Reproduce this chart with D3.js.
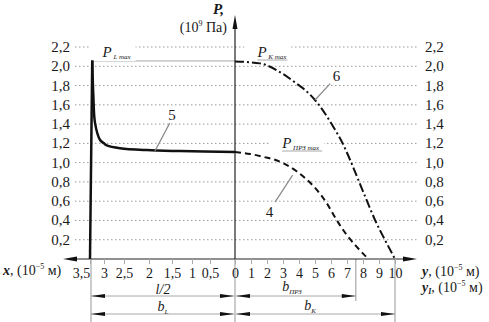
<!DOCTYPE html>
<html>
<head>
<meta charset="utf-8">
<script src="https://cdn.jsdelivr.net/npm/d3@7"></script>
<style>
    body { margin: 0; background: #fff; }
    svg, svg text { font-family: "Liberation Serif", "Times New Roman", "DejaVu Serif", serif; }
    .grid line { stroke: #9a9a9a; stroke-width: 1; stroke-dasharray: 1.5, 2.5; }
    .tick-label { font-size: 15px; fill: #1a1a1a; }
    .thin { stroke: #a8a8a8; stroke-width: 1.2; fill: none; }
</style>
</head>
<body>
<div id="chart"></div>
<script>
// P values (10^9 Pa) for the grid / labels
const pTicks = [0.2, 0.4, 0.6, 0.8, 1.0, 1.2, 1.4, 1.6, 1.8, 2.0, 2.2];
// left half axis, x (10^-5 m)
const xTicks = [0, 0.5, 1, 1.5, 2, 2.5, 3, 3.5];
// right half axis, y (10^-5 m)
const yTicks = [1, 2, 3, 4, 5, 6, 7, 8, 9, 10];

// curve 5 (left side, solid)
const curve5X = [3.5, 3.42, 3.38, 3.32, 3.14, 3.0, 2.93, 2.6, 2.05, 1.3, 0];
const curve5P = [0, 2.06, 1.69, 1.41, 1.235, 1.2, 1.18, 1.15, 1.13, 1.12, 1.11];

// curve 6 (right side, dash-dot)
const curve6Y = [0, 1.56, 3.0, 3.85, 4.375, 5.0, 5.625, 6.15, 6.67, 7.19, 7.71, 8.23, 8.75, 9.375, 10];
const curve6P = [2.05, 2.03, 1.92, 1.82, 1.755, 1.65, 1.51, 1.37, 1.22, 1.03, 0.82, 0.61, 0.405, 0.197, 0];

// curve 4 (right side, dashed)
const curve4Y = [0, 0.94, 1.77, 2.4, 3.85, 4.27, 5.1, 5.73, 6.35, 6.98, 7.6, 8.33];
const curve4P = [1.11, 1.09, 1.06, 1.035, 0.91, 0.855, 0.72, 0.58, 0.405, 0.25, 0.128, 0];

const PL_MAX = 2.05;
const HALF_L = 3.5;   // l/2 = b_L
const B_PRZ = 7.55;
const B_K = 10;

const WIDTH = 489;
const HEIGHT = 322;
const AXIS_Y = 259;
const SERIF = "Liberation Serif";
const INK = "#1a1a1a";

const svg = d3.select("#chart")
    .append("svg")
    .attr("width", WIDTH)
    .attr("height", HEIGHT)
    .attr("font-family", SERIF);

let yScale = d3.scaleLinear()
    .domain([0, 2.2])
    .range([AXIS_Y, 47]);

// the left ticks are spaced a bit unevenly in the source drawing
let xLeft = d3.scaleLinear()
    .domain(xTicks)
    .range([235, 210, 192, 172, 149, 124, 104, 90]);

let xRight = d3.scaleLinear()
    .domain([0, 10])
    .range([235, 395]);

const fmt = (v) => d3.format(".1f")(v).replace(".", ",");
const fmtX = (v) => (v % 1 === 0 ? String(v) : String(v).replace(".", ","));

// Grid lines
let grid = svg.append("g").classed("grid", true);
grid.selectAll(".gl")
    .data(pTicks)
    .enter()
    .append("line")
    .attr("x1", 75)
    .attr("x2", 418)
    .attr("y1", d => yScale(d))
    .attr("y2", d => yScale(d));

// P tick labels, both sides
svg.append("g")
    .selectAll("text")
    .data(pTicks)
    .enter()
    .append("text")
    .classed("tick-label", true)
    .attr("x", 70)
    .attr("y", d => yScale(d) + 5)
    .attr("text-anchor", "end")
    .text(fmt);

svg.append("g")
    .selectAll("text")
    .data(pTicks)
    .enter()
    .append("text")
    .classed("tick-label", true)
    .attr("x", 425)
    .attr("y", d => yScale(d) + 5)
    .text(fmt);

// extension lines (for the dimensions below)
[xLeft(HALF_L) + 1, xRight(0), xRight(B_K)].forEach(x => {
    svg.append("line").classed("thin", true)
        .attr("x1", x).attr("x2", x)
        .attr("y1", AXIS_Y).attr("y2", HEIGHT);
});
svg.append("line").classed("thin", true)
    .attr("x1", xRight(B_PRZ)).attr("x2", xRight(B_PRZ))
    .attr("y1", AXIS_Y).attr("y2", 301);

// P_L max reference line
svg.append("line").classed("thin", true)
    .attr("x1", xLeft(3.42)).attr("x2", xRight(0))
    .attr("y1", yScale(PL_MAX) - 0.5).attr("y2", yScale(PL_MAX) - 0.5)
    .style("stroke-width", 1);

// label helper: P with subscript, on a white patch
function pLabel(x, y, sub, underW) {
    let g = svg.append("g");
    let bg = g.append("rect").attr("fill", "#fff");
    let t = g.append("text")
        .attr("x", x)
        .attr("y", y)
        .attr("fill", INK);
    t.append("tspan")
        .style("font-style", "italic")
        .style("font-size", "15px")
        .text("P");
    t.append("tspan")
        .style("font-style", "italic")
        .style("font-size", "7px")
        .attr("dy", 2)
        .text(sub);
    let bb = t.node().getBBox();
    bg.attr("x", bb.x - 12).attr("y", bb.y - 1)
        .attr("width", bb.width + 16).attr("height", bb.height + 1);
    g.append("line").classed("thin", true)
        .attr("x1", x).attr("x2", x + underW)
        .attr("y1", y + 3).attr("y2", y + 3)
        .style("stroke-width", 1);
}

pLabel(xLeft(3.05), 57, " L max", 0);
pLabel(xRight(1.4), 57, " K max", 30);
pLabel(xRight(2.95), 148, " ПРЗ max", 40);

// axes
let axes = svg.append("g").attr("stroke", "#222").attr("stroke-width", 1.2);
axes.append("line")
    .attr("x1", 70).attr("x2", 410)
    .attr("y1", AXIS_Y).attr("y2", AXIS_Y);
axes.append("line")
    .attr("x1", xRight(0)).attr("x2", xRight(0))
    .attr("y1", AXIS_Y).attr("y2", 25);

let arrows = svg.append("g").attr("fill", "#111");
arrows.append("path").attr("d", `M63,${AXIS_Y} l14,-2.5 l0,5 Z`);
arrows.append("path").attr("d", `M417,${AXIS_Y} l-14,-2.5 l0,5 Z`);
arrows.append("path").attr("d", `M${xRight(0)},15 l-2.5,14 l5,0 Z`);

// bottom ticks
function styleAxis(g) {
    g.attr("font-family", SERIF).attr("font-size", 14);
    g.select(".domain").remove();
    g.selectAll("line").attr("stroke", "#aaa");
    g.selectAll("text").attr("fill", INK).attr("y", 9).attr("dy", "0.72em");
}

svg.append("g")
    .attr("transform", `translate(0,${AXIS_Y})`)
    .call(d3.axisBottom(xLeft).tickValues(xTicks).tickSize(5).tickFormat(fmtX))
    .call(styleAxis)
    .call(g => g.selectAll("text").filter(d => d === HALF_L).attr("dx", -9));

svg.append("g")
    .attr("transform", `translate(0,${AXIS_Y})`)
    .call(d3.axisBottom(xRight).tickValues(yTicks).tickSize(5).tickFormat(fmtX))
    .call(styleAxis);

// curves
let lineLeft = d3.line()
    .x(d => xLeft(d[0]))
    .y(d => yScale(d[1]));
let lineRight = d3.line()
    .x(d => xRight(d[0]))
    .y(d => yScale(d[1]));

let c5 = curve5X.map((x, i) => [x, curve5P[i]]);
svg.append("path")
    .attr("d", lineLeft(c5.slice(0, 2)))
    .attr("fill", "none").attr("stroke", "#111").attr("stroke-width", 2.5);
svg.append("path")
    .attr("d", lineLeft.curve(d3.curveCatmullRom)(c5.slice(1)))
    .attr("fill", "none").attr("stroke", "#111").attr("stroke-width", 2.5);

svg.append("path")
    .attr("d", lineRight.curve(d3.curveMonotoneX)(curve6Y.map((y, i) => [y, curve6P[i]])))
    .attr("fill", "none").attr("stroke", "#111").attr("stroke-width", 2)
    .attr("stroke-dasharray", "9,3,2,3");

svg.append("path")
    .attr("d", lineRight.curve(d3.curveMonotoneX)(curve4Y.map((y, i) => [y, curve4P[i]])))
    .attr("fill", "none").attr("stroke", "#111").attr("stroke-width", 2)
    .attr("stroke-dasharray", "6,4");

// curve numbers with leader lines
function leader(x1, y1, x2, y2, label, lx, ly) {
    svg.append("line").classed("thin", true)
        .style("stroke", "#888").style("stroke-width", 1.2)
        .attr("x1", x1).attr("y1", y1).attr("x2", x2).attr("y2", y2);
    svg.append("text").attr("x", lx).attr("y", ly)
        .attr("text-anchor", "middle").attr("fill", INK)
        .style("font-size", "15px").text(label);
}
leader(xLeft(1.55), yScale(1.41), xLeft(1.87), yScale(1.12), "5", xLeft(1.5), yScale(1.44));
leader(xRight(5.95), yScale(1.82), xRight(5.0), yScale(1.65), "6", xRight(6.35), yScale(1.85));
leader(xRight(2.5), yScale(0.59), xRight(3.6), yScale(0.87), "4", xRight(2.15), yScale(0.44));

// dimensions
function dim(xa, xb, y, txt, sub, tx, ty) {
    svg.append("line").classed("thin", true)
        .style("stroke-width", 1)
        .attr("x1", xa).attr("x2", xb).attr("y1", y).attr("y2", y);
    svg.append("path").attr("fill", "#111")
        .attr("d", `M${xa},${y} l14,-2 l0,4 Z`);
    svg.append("path").attr("fill", "#111")
        .attr("d", `M${xb},${y} l-14,-2 l0,4 Z`);
    let t = svg.append("text").attr("x", tx).attr("y", ty).attr("fill", INK)
        .attr("text-anchor", "middle")
        .style("font-style", "italic").style("font-size", "14px");
    t.append("tspan").text(txt);
    if (sub) t.append("tspan").attr("dy", 3).style("font-size", "7px").text(sub);
}
dim(xLeft(HALF_L) + 1, xRight(0) - 1, 296, "l/2", null, 163, 294);
dim(xLeft(HALF_L) + 1, xRight(0) - 1, 314, "b", "L", 163, 311);
dim(xRight(0) + 1, xRight(B_PRZ), 296, "b", "ПРЗ", 292, 291);
dim(xRight(0) + 1, xRight(B_K), 314, "b", "K", 310, 310);

// axis titles
function axisTitle(x, y, v, sub) {
    let t = svg.append("text").attr("x", x).attr("y", y).attr("fill", INK)
        .style("font-size", "14px");
    t.append("tspan").style("font-weight", "bold").style("font-style", "italic").text(v);
    if (sub) t.append("tspan").style("font-weight", "bold").style("font-style", "italic")
        .style("font-size", "8px").attr("dy", 2).text(sub);
    t.append("tspan").attr("dy", sub ? -2 : 0).text(", (10");
    t.append("tspan").style("font-size", "8px").attr("dy", -6).text("−5");
    t.append("tspan").attr("dy", 6).text(" м)");
}
axisTitle(3, 275, "x");
axisTitle(422, 276, "y");
axisTitle(422, 292, "y", "I");

svg.append("text").attr("x", 213).attr("y", 14).attr("fill", INK)
    .style("font-size", "15px").style("font-weight", "bold").style("font-style", "italic")
    .text("P,");
let pu = svg.append("text").attr("x", 227).attr("y", 32).attr("fill", INK)
    .attr("text-anchor", "end").style("font-size", "14px");
pu.append("tspan").text("(10");
pu.append("tspan").style("font-size", "8px").attr("dy", -6).text("9");
pu.append("tspan").attr("dy", 6).text(" Па)");
</script>
</body>
</html>
